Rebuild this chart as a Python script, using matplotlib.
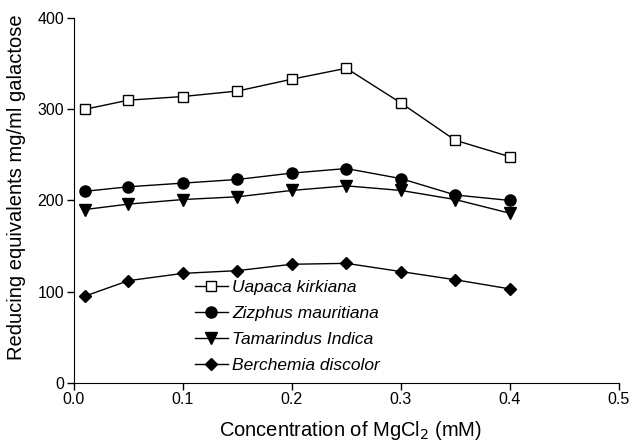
import matplotlib
matplotlib.use("Agg")
import matplotlib.pyplot as plt

plt.rcParams['font.family'] = ['Liberation Sans', 'DejaVu Sans']

conc = [0.01, 0.05, 0.1, 0.15, 0.2, 0.25, 0.3, 0.35, 0.4]
uapaca = [300, 310, 314, 320, 333, 345, 307, 266, 248]
zizphus = [210, 215, 219, 223, 230, 235, 224, 206, 200]
tamarindus = [190, 196, 201, 204, 211, 216, 211, 201, 186]
berchemia = [95, 112, 120, 123, 130, 131, 122, 113, 103]

names = ["Uapaca kirkiana", "Zizphus mauritiana", "Tamarindus Indica", "Berchemia discolor"]
xticks = [0.0, 0.1, 0.2, 0.3, 0.4, 0.5]
yticks = [0, 100, 200, 300, 400]

fig = plt.figure(figsize=(6.32, 4.42), dpi=100)
ax = fig.add_axes([0.117, 0.134, 0.862, 0.825])

ax.plot(conc, uapaca, '-', color='black', lw=1, marker='s', ms=7.5, mfc='white', mec='black', mew=1, label=names[0])
ax.plot(conc, zizphus, '-', color='black', lw=1, marker='o', ms=8, mfc='black', mec='black', label=names[1])
ax.plot(conc, tamarindus, '-', color='black', lw=1, marker='v', ms=8.5, mfc='black', mec='black', label=names[2])
ax.plot(conc, berchemia, '-', color='black', lw=1, marker='D', ms=6.5, mfc='black', mec='black', label=names[3])

ax.set_xlim(0, 0.5)
ax.set_ylim(0, 400)
ax.set_xticks(xticks)
ax.set_xticklabels([f"{v:.1f}" for v in xticks])
ax.set_yticks(yticks)
for s in ['top', 'right']:
    ax.spines[s].set_visible(False)
ax.tick_params(axis='both', labelsize=11.5, direction='out', length=5, width=1, pad=2)
ax.set_xlabel("Concentration of MgCl$_2$ (mM)", fontsize=14.5)
ax.set_ylabel("Reducing equivalents mg/ml galactose", fontsize=14.5)
ax.yaxis.set_label_coords(-0.088, 0.535)
ax.xaxis.set_label_coords(0.507, -0.098)

leg = ax.legend(loc='upper left', bbox_to_anchor=(0.222, 0.282), frameon=False,
                prop={'style': 'italic', 'size': 12.5}, borderpad=0, borderaxespad=0,
                handlelength=1.9, handletextpad=0.25, labelspacing=0.62)

fig.savefig("out.png", dpi=100)
